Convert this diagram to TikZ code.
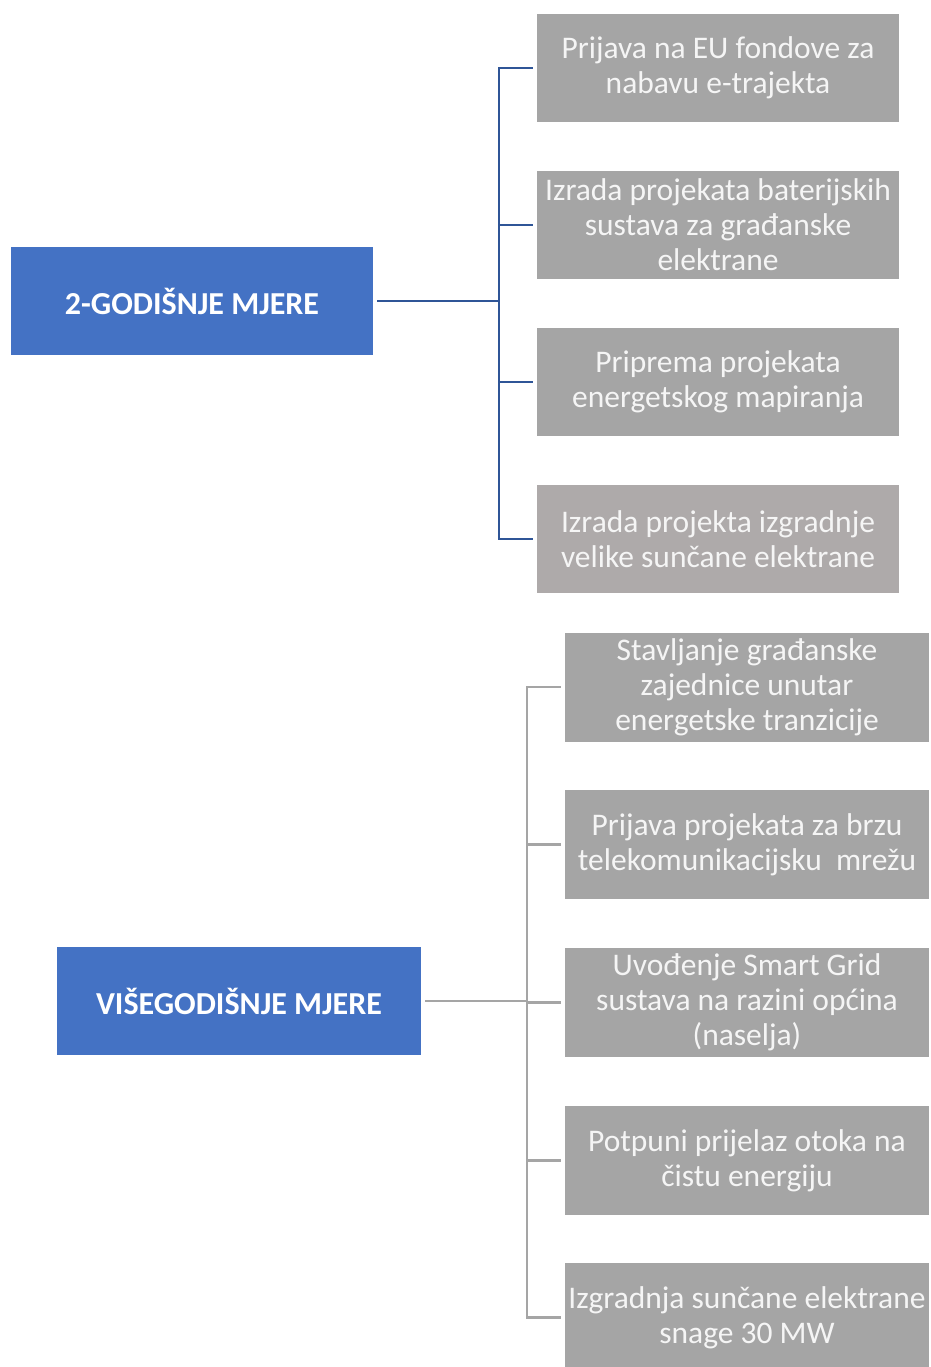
\documentclass[tikz,border=0pt]{standalone}
\usepackage{fontspec}
\setmainfont{Carlito}
\definecolor{mblue}{HTML}{4472C4}
\definecolor{lblue}{HTML}{2F5597}
\definecolor{mgray}{HTML}{A5A5A5}
\definecolor{wgray}{HTML}{AEAAAA}
\definecolor{ltext}{HTML}{F5F5F5}
\begin{document}
\begin{tikzpicture}[x=1pt,y=-1pt,
  mainbox/.style={fill=mblue,draw=none,minimum width=362pt,minimum height=108pt,inner sep=0pt,
    text=white,font=\fontsize{32}{35}\selectfont\bfseries,align=center},
  itembox/.style={fill=mgray,draw=none,minimum width=362pt,minimum height=108pt,inner sep=0pt,
    text=ltext,font=\fontsize{31.5}{35}\selectfont,align=center},
  blueline/.style={draw=lblue,line width=2.5pt},
  grayline/.style={draw=mgray,line width=2.5pt}]
\useasboundingbox (0,0) rectangle (930,1367);
% top group
\node[mainbox] (t0) at (192,301) {2-GODIŠNJE MJERE};
\node[itembox] (t1) at (718,68) {Prijava na EU fondove za\\nabavu e-trajekta};
\node[itembox] (t2) at (718,225) {Izrada projekata baterijskih\\sustava za građanske\\elektrane};
\node[itembox] (t3) at (718,382) {Priprema projekata\\energetskog mapiranja};
\node[itembox,fill=wgray] (t4) at (718,539) {Izrada projekta izgradnje\\velike sunčane elektrane};
\coordinate (tj) at (499,301);
\draw[blueline,shorten <=4pt] (t0.east) -- (tj);
\foreach \i in {1,2,3,4}{\draw[blueline,shorten >=4pt] (tj) |- (t\i.west);}
% bottom group
\node[mainbox,minimum width=364pt] (b0) at (239,1001) {VIŠEGODIŠNJE MJERE};
\node[itembox,minimum width=364pt,minimum height=109pt] (b1) at (747,687) {Stavljanje građanske\\zajednice unutar\\energetske tranzicije};
\node[itembox,minimum width=364pt,minimum height=109pt] (b2) at (747,844.5) {Prijava projekata za brzu\\telekomunikacijsku\ \ mrežu};
\node[itembox,minimum width=364pt,minimum height=109pt] (b3) at (747,1002.5) {Uvođenje Smart Grid\\sustava na razini općina\\(naselja)};
\node[itembox,minimum width=364pt,minimum height=109pt] (b4) at (747,1160.5) {Potpuni prijelaz otoka na\\čistu energiju};
\node[itembox,minimum width=364pt,minimum height=109pt] (b5) at (747,1317.5) {Izgradnja sunčane elektrane\\snage 30 MW};
\coordinate (bj) at (527,1001);
\draw[grayline,shorten <=4pt] (b0.east) -- (bj);
\foreach \i in {1,2,3,4,5}{\draw[grayline,shorten >=4pt] (bj) |- (b\i.west);}
\end{tikzpicture}
\end{document}
